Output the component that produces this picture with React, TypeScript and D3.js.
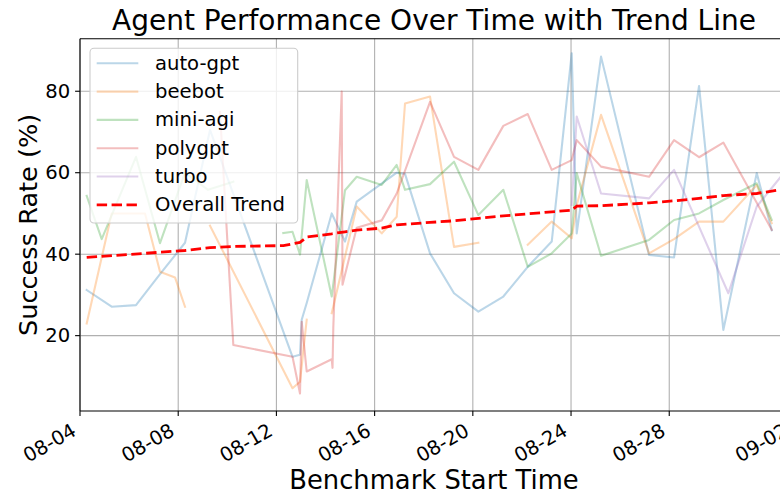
import React from "react";
import * as d3 from "d3";

type Pt = [string, number | null];

const xTickLabels = ["08-04", "08-08", "08-12", "08-16", "08-20", "08-24", "08-28", "09-02"];
const yTicks = [20, 40, 60, 80];
const seriesNames = ["auto-gpt", "beebot", "mini-agi", "polygpt", "turbo"];
const seriesColors = ["#1f77b4", "#ff7f0e", "#2ca02c", "#d62728", "#9467bd"];

const autoGpt: Pt[] = [
  ["08-04 06:33", 31.2], ["08-05 06:59", 27.1], ["08-06 06:45", 27.5], ["08-07 06:12", 35.1],
  ["08-08 06:39", 42.8], ["08-09 07:05", 70.5], ["08-12 15:44", 14.8], ["08-12 23:04", 15.3],
  ["08-13 00:44", 23.9], ["08-13 05:37", 28.0], ["08-14 06:04", 50.0], ["08-14 19:04", 43.1],
  ["08-15 06:30", 52.9], ["08-16 21:36", 60.0], ["08-17 05:43", 59.7], ["08-18 06:10", 40.2],
  ["08-19 05:37", 30.4], ["08-20 05:23", 25.9], ["08-21 05:49", 29.6], ["08-22 05:40", 36.9],
  ["08-23 05:08", 43.1], ["08-24 00:41", 89.3], ["08-24 05:34", 45.1], ["08-25 05:20", 88.5],
  ["08-27 04:15", 39.8], ["08-28 04:42", 39.2], ["08-29 05:08", 81.3], ["08-30 04:53", 21.4],
  ["08-31 13:32", 59.9], ["09-01 04:12", 45.9],
];

const beebot: Pt[] = [
  ["08-04 06:33", 23.0], ["08-05 06:59", 50.0], ["08-06 15:33", 50.0], ["08-07 06:12", 35.7],
  ["08-07 20:52", 34.3], ["08-08 06:39", 27.1], ["08-08 18:00", null],
  ["08-09 07:05", 47.0], ["08-12 15:44", 7.1], ["08-12 23:04", 8.7], ["08-13 05:37", 23.9],
  ["08-13 18:00", null],
  ["08-14 06:04", 25.5], ["08-15 06:30", 51.7], ["08-16 06:57", 45.1], ["08-16 21:36", 49.2],
  ["08-17 05:43", 77.0], ["08-18 06:10", 78.7], ["08-19 05:37", 41.8], ["08-20 05:23", 42.8],
  ["08-21 05:49", null],
  ["08-22 05:40", 42.3], ["08-23 05:08", 48.0], ["08-24 00:41", 43.9], ["08-24 05:34", 52.0],
  ["08-25 05:20", 74.2], ["08-27 04:15", 40.2], ["08-28 04:42", 43.7], ["08-29 05:08", 48.0],
  ["08-30 04:53", 48.0], ["08-31 13:32", 57.0], ["09-01 04:12", 47.6],
];

const miniAgi: Pt[] = [
  ["08-04 06:33", 54.3], ["08-04 21:13", 43.7], ["08-06 06:45", 63.9], ["08-07 06:12", 42.7],
  ["08-08 06:39", 60.0], ["08-09 05:08", 55.8], ["08-10 05:52", 57.8], ["08-11 06:00", null],
  ["08-12 06:45", 45.2], ["08-12 15:44", 45.5], ["08-12 23:04", 39.9], ["08-13 05:37", 58.2],
  ["08-14 06:04", 29.6], ["08-14 19:04", 55.7], ["08-15 06:30", 59.0], ["08-16 06:57", 57.0],
  ["08-16 21:36", 61.9], ["08-17 05:43", 55.8], ["08-18 06:10", 57.2], ["08-19 05:37", 62.7],
  ["08-20 05:23", 49.6], ["08-21 05:49", 55.8], ["08-22 05:40", 36.9], ["08-23 05:08", 40.2],
  ["08-24 00:41", 45.1], ["08-24 05:34", 59.9], ["08-25 05:20", 39.6], ["08-27 04:15", 43.5],
  ["08-28 04:42", 48.4], ["08-29 05:08", 50.0], ["08-30 04:53", 53.3], ["08-31 13:32", 57.4],
  ["09-01 04:12", 48.4],
];

const polygpt: Pt[] = [
  ["08-09 16:52", 74.9], ["08-10 05:52", 17.7], ["08-12 15:44", 14.8], ["08-12 23:04", 5.8],
  ["08-13 00:44", 23.4], ["08-13 05:37", 11.2], ["08-14 06:04", 14.2], ["08-14 06:51", 12.1],
  ["08-14 07:38", 22.2], ["08-14 15:50", 79.9], ["08-14 16:37", 32.5], ["08-15 06:30", 46.5],
  ["08-16 06:57", 48.3], ["08-16 21:36", 54.9], ["08-18 06:10", 77.4], ["08-19 05:37", 63.9],
  ["08-20 05:23", 60.7], ["08-21 05:49", 71.5], ["08-22 05:40", 74.4], ["08-23 05:08", 60.7],
  ["08-24 00:41", 63.1], ["08-24 05:34", 68.0], ["08-25 05:20", 61.5], ["08-27 04:15", 59.0],
  ["08-28 04:42", 68.0], ["08-29 05:08", 63.8], ["08-30 04:53", 67.4], ["09-01 04:12", 46.0],
];

const turbo: Pt[] = [
  ["08-24 00:41", 52.1], ["08-24 05:34", 73.8], ["08-25 05:20", 54.9], ["08-27 04:15", 53.7],
  ["08-28 04:42", 60.7], ["08-30 09:47", 30.4], ["08-31 13:32", 51.7], ["09-01 14:17", 59.4],
];

const trend: Pt[] = [
  ["08-04 06:33", 39.2], ["08-08 06:39", 40.9], ["08-09 07:05", 41.6], ["08-10 05:52", 41.9],
  ["08-12 06:45", 42.1], ["08-12 23:04", 42.9], ["08-13 05:37", 44.2], ["08-14 06:04", 45.0],
  ["08-14 19:04", 45.5], ["08-15 06:30", 45.9], ["08-16 06:57", 46.4], ["08-16 21:36", 47.2],
  ["08-18 06:10", 47.8], ["08-19 05:37", 48.2], ["08-20 05:23", 48.8], ["08-21 05:49", 49.4],
  ["08-22 05:40", 49.9], ["08-23 05:08", 50.4], ["08-24 00:41", 50.8], ["08-24 05:34", 51.8],
  ["08-25 05:20", 51.9], ["08-27 04:15", 52.6], ["08-28 04:42", 53.1], ["08-29 05:08", 53.7],
  ["08-30 04:53", 54.4], ["08-31 13:32", 54.9], ["09-01 14:17", 55.9],
];

const seriesData = [autoGpt, beebot, miniAgi, polygpt, turbo];

const parseT = d3.timeParse("%Y-%m-%d %H:%M");
const parseDay = d3.timeParse("%Y-%m-%d");
const toDate = (s: string) => parseT("2023-" + s) as Date;
const tickDate = (s: string) => parseDay("2023-" + s) as Date;

const W = 780;
const H = 496;
const L = 80, R = 792, T = 38.7, B = 411;
const FONT = "'DejaVu Sans', sans-serif";

export default function App() {
  const x = d3.scaleTime().domain([tickDate("08-04"), tickDate("09-02")]).range([L, R]);
  const y = d3.scaleLinear().domain([1.5, 92.9]).range([B, T]);
  const line = d3
    .line<Pt>()
    .defined((d) => d[1] !== null)
    .x((d) => x(toDate(d[0])))
    .y((d) => y(d[1] as number));

  const tickFs = 19.6;
  const a = tickFs * 0.76;
  const dsc = tickFs * 0.24;
  const legendY0 = 63.3;
  const legendDy = 28.3;

  return (
    <svg width={W} height={H} style={{ position: "absolute", left: 0, top: 0, background: "#fff" }} fontFamily={FONT}>
      <defs>
        <clipPath id="plotclip">
          <rect x={L} y={T} width={R - L} height={B - T} />
        </clipPath>
      </defs>
      <rect x={0} y={0} width={W} height={H} fill="#fff" />
      {xTickLabels.map((t) => (
        <line key={"gx" + t} x1={x(tickDate(t))} x2={x(tickDate(t))} y1={T} y2={B} stroke="#b0b0b0" strokeWidth={1.1} />
      ))}
      {yTicks.map((v) => (
        <line key={"gy" + v} x1={L} x2={R} y1={y(v)} y2={y(v)} stroke="#b0b0b0" strokeWidth={1.1} />
      ))}
      <g clipPath="url(#plotclip)">
        {seriesData.map((s, i) => (
          <path key={seriesNames[i]} d={line(s) || ""} fill="none" stroke={seriesColors[i]} strokeOpacity={0.3} strokeWidth={2.1} strokeLinejoin="round" strokeLinecap="square" />
        ))}
        <path d={line(trend) || ""} fill="none" stroke="#ff0000" strokeWidth={2.8} strokeDasharray="10.4 4.5" />
      </g>
      <line x1={L} x2={L} y1={T} y2={B} stroke="#000" strokeWidth={1.1} />
      <line x1={L} x2={R} y1={B} y2={B} stroke="#000" strokeWidth={1.1} />
      <line x1={L} x2={R} y1={T} y2={T} stroke="#000" strokeWidth={1.1} />
      <line x1={R} x2={R} y1={T} y2={B} stroke="#000" strokeWidth={1.1} />
      {xTickLabels.map((t) => {
        const px = x(tickDate(t));
        return (
          <g key={"xt" + t}>
            <line x1={px} x2={px} y1={B} y2={B + 4.9} stroke="#000" strokeWidth={1.1} />
            <text
              transform={`translate(${px - 0.5 * dsc},${B + 10.5 + 0.866 * a}) rotate(-30)`}
              textAnchor="end"
              fontSize={tickFs}
              fill="#000"
            >
              {t}
            </text>
          </g>
        );
      })}
      {yTicks.map((v) => (
        <g key={"yt" + v}>
          <line x1={L - 4.9} x2={L} y1={y(v)} y2={y(v)} stroke="#000" strokeWidth={1.1} />
          <text x={L - 9.8} y={y(v)} textAnchor="end" dominantBaseline="central" fontSize={tickFs} fill="#000">
            {v}
          </text>
        </g>
      ))}
      <text x={(L + R) / 2 - 2} y={30} textAnchor="middle" fontSize={28} fill="#000">
        Agent Performance Over Time with Trend Line
      </text>
      <text x={(L + R) / 2 - 2} y={489} textAnchor="middle" fontSize={25.8} fill="#000">
        Benchmark Start Time
      </text>
      <text transform={`translate(37,${(T + B) / 2}) rotate(-90)`} textAnchor="middle" fontSize={25.6} fill="#000">
        Success Rate (%)
      </text>
      <rect x={90} y={48.3} width={207.7} height={174.7} rx={4} fill="#fff" fillOpacity={0.8} stroke="#cccccc" strokeWidth={1.1} />
      {seriesNames.map((n, i) => (
        <g key={"lg" + n}>
          <line x1={96.7} x2={138.3} y1={legendY0 + legendDy * i} y2={legendY0 + legendDy * i} stroke={seriesColors[i]} strokeOpacity={0.3} strokeWidth={2.1} />
          <text x={155} y={legendY0 + legendDy * i} dominantBaseline="central" fontSize={19.6} fill="#000">
            {n}
          </text>
        </g>
      ))}
      <line x1={96.7} x2={138.3} y1={legendY0 + legendDy * 5} y2={legendY0 + legendDy * 5} stroke="#ff0000" strokeWidth={2.8} strokeDasharray="10.4 4.5" />
      <text x={155} y={legendY0 + legendDy * 5} dominantBaseline="central" fontSize={19.6} fill="#000">
        Overall Trend
      </text>
    </svg>
  );
}
